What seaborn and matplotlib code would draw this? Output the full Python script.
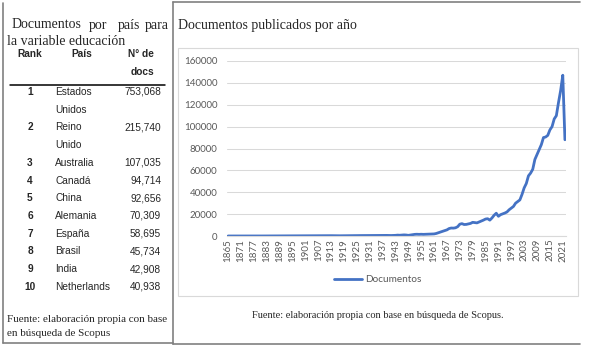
import pandas as pd
import matplotlib.pyplot as plt
import seaborn as sns
from matplotlib.lines import Line2D
from matplotlib.patches import Rectangle

sns.set_style("white")
plt.rcParams['font.family'] = ['Liberation Sans', 'DejaVu Sans']

# @@ Table data: documents per country
ranks = [1, 2, 3, 4, 5, 6, 7, 8, 9, 10]
countries = ["Estados\nUnidos", "Reino\nUnido", "Australia", "Canadá", "China",
             "Alemania", "España", "Brasil", "India", "Netherlands"]
docs_by_country = [753068, 215740, 107035, 94714, 92656, 70309, 58695, 45734, 42908, 40938]

# @@ Line data: documents per year (1865 - 2022)
first_year, last_year = 1865, 2022
docs_per_year = [
    10, 5, 8, 12, 10, 15, 12, 18, 20, 15,
    20, 25, 22, 30, 28, 35, 30, 40, 38, 45,
    50, 48, 55, 60, 58, 65, 70, 75, 80, 85,
    90, 95, 100, 110, 120, 150, 180, 200, 190, 210,
    220, 230, 240, 250, 260, 270, 280, 300, 290, 250,
    220, 210, 200, 230, 260, 300, 320, 330, 340, 350,
    360, 380, 400, 420, 430, 420, 400, 410, 420, 440,
    460, 480, 500, 520, 540, 480, 450, 500, 600, 800,
    700, 900, 1000, 900, 600, 900, 1200, 1500, 1600, 1500,
    1600, 1500, 1600, 1700, 1700, 1800, 1900, 2300, 3000, 3800,
    4300, 4900, 5600, 6800, 7300, 7200, 7500, 8500, 10800, 11300,
    10500, 10600, 11000, 11500, 12500, 12200, 12000, 12800, 13500, 14500,
    15500, 15800, 14500, 16500, 19000, 20800, 18000, 19500, 20200, 21000,
    22000, 24000, 25500, 27000, 30000, 31500, 33000, 38000, 44000, 48000,
    55000, 57500, 61000, 70000, 74500, 79000, 83500, 90000, 90500, 92000,
    97000, 100000, 107000, 110000, 122000, 133000, 147000, 88000,
]
years = list(range(first_year, last_year + 1))
tick_years = list(range(first_year, last_year + 1, 6))
# @@

W, H = 589, 349
fig = plt.figure(figsize=(W / 100, H / 100), dpi=100)


def fx(x):
    return x / W


def fy(y):
    return 1 - y / H


# Outer frame
frame_gray = '#808080'
for x0, y0, x1, y1 in [(3, 3, 3, 343), (3, 343, 173, 343), (173, 1.5, 173, 344),
                       (173, 1.5, 580, 1.5), (173, 344, 580, 344)]:
    fig.add_artist(Line2D([fx(x0), fx(x1)], [fy(y0), fy(y1)], color=frame_gray, lw=1.2))

# Left table title (justified by hand)
serif = ['Liberation Serif', 'DejaVu Serif']
for word, x in [("Documentos", 12), ("por", 89), ("país", 118), ("para", 145)]:
    fig.text(fx(x), fy(25), word, family=serif, fontsize=10, va='center', ha='left')
fig.text(fx(7), fy(41.5), "la variable educación", family=serif, fontsize=10, va='center', ha='left')

# Table header
fig.text(fx(30), fy(54), "Rank", fontsize=7.3, weight='bold', ha='center', va='center')
fig.text(fx(82), fy(54), "País", fontsize=7.3, weight='bold', ha='center', va='center')
fig.text(fx(141), fy(54), "N° de", fontsize=7.3, weight='bold', ha='center', va='center')
fig.text(fx(142), fy(72), "docs", fontsize=7.3, weight='bold', ha='center', va='center')
fig.add_artist(Line2D([fx(10), fx(165)], [fy(85), fy(85)], color='black', lw=1.1))

# Table rows
line_idx = 0
for rank, country, n in zip(ranks, countries, docs_by_country):
    y = 92 + 17.7 * line_idx
    fig.text(fx(30), fy(y), str(rank), fontsize=7.3, weight='bold', ha='center', va='center')
    for k, part in enumerate(country.split("\n")):
        fig.text(fx(55), fy(y + 17.7 * k), part, fontsize=7.3, ha='left', va='center')
    fig.text(fx(161), fy(y), f"{n:,}", fontsize=7.3, ha='right', va='center')
    line_idx += len(country.split("\n"))

# Left footer
fig.text(fx(7), fy(319), "Fuente: elaboración propia con base", family=serif, fontsize=8,
         va='center', ha='left')
fig.text(fx(7), fy(333), "en búsqueda de Scopus", family=serif, fontsize=8, va='center', ha='left')

# Right side: title, chart box and footer
fig.text(fx(178), fy(26), "Documentos publicados por año", family=serif, fontsize=10,
         va='center', ha='left')
fig.add_artist(Rectangle((fx(178), fy(296)), (578 - 178) / W, (296 - 48) / H,
                         transform=fig.transFigure, fill=False, ec='#D9D9D9', lw=0.8))
fig.text(fx(378), fy(315), "Fuente: elaboración propia con base en búsqueda de Scopus.",
         family=serif, fontsize=7.5, va='center', ha='center')

# Line chart
df = pd.DataFrame({"Año": years, "Documentos": docs_per_year})
ax = fig.add_axes([fx(227), fy(236), (566 - 227) / W, (236 - 61) / H])
sns.lineplot(data=df, x="Año", y="Documentos", ax=ax, color='#4472C4', lw=2.0,
             label='Documentos')
ax.set_xlim(first_year - 0.5, last_year + 0.5)
ax.set_ylim(0, 160000)
ax.set_yticks(range(0, 160001, 20000))
ax.set_yticklabels([str(v) for v in range(0, 160001, 20000)], family='Lato')
ax.set_xticks(tick_years)
ax.set_xticklabels([str(y) for y in tick_years], rotation=90, family='Lato')
ax.set_xlabel('')
ax.set_ylabel('')
ax.grid(axis='y', color='#D9D9D9', lw=0.75)
ax.grid(axis='x', visible=False)
for side in ['left', 'top', 'right']:
    ax.spines[side].set_visible(False)
ax.spines['bottom'].set_color('#D9D9D9')
ax.tick_params(length=0, colors='#595959', labelsize=7)
ax.tick_params(axis='y', pad=7)
ax.tick_params(axis='x', pad=2)
ax.legend(loc='center', bbox_to_anchor=(fx(378), fy(280)), bbox_transform=fig.transFigure,
          frameon=False, handlelength=2.8, handletextpad=0.3,
          labelcolor='#595959', prop={'family': 'Lato', 'size': 7.2})

fig.savefig("out.png", dpi=100)
